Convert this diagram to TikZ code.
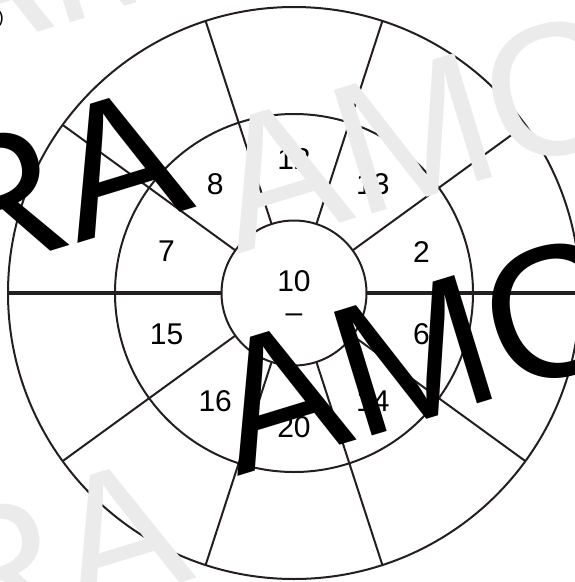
\documentclass[tikz,border=0pt]{standalone}
\usepackage{fontspec}
\setmainfont{Liberation Sans}
\definecolor{linec}{HTML}{231F20}
\definecolor{wgrey}{HTML}{EBEBEB}
\begin{document}
\begin{tikzpicture}[x=1pt,y=-1pt,
  ring/.style={circle, draw=linec, line width=2pt, inner sep=0pt, outer sep=0pt},
  spoke/.style={draw=linec, line width=2pt},
  hspoke/.style={draw=linec, line width=3.2pt},
  num/.style={font=\fontsize{30}{36}\selectfont, text=black, inner sep=0pt},
  wmk/.style={font=\fontsize{188}{200}\selectfont, inner sep=0pt, anchor=base west, rotate=17},
]
\useasboundingbox (0,0) rectangle (575,582);
\coordinate (O) at (294,293);
\node[ring, minimum size=572pt] (outer) at (O) {};
\node[ring, minimum size=358pt] (middle) at (O) {};
\node[ring, minimum size=145pt] (inner) at (O) {};
% spokes
\foreach \a in {36,72,108,144,216,252,288,324}
  \draw[spoke] (inner.\a) -- (outer.\a);
\draw[hspoke] (inner.0) -- (outer.0);
\draw[hspoke] (inner.180) -- (outer.180);
% labels
\foreach \a/\t/\n in {18/2/l2, 54/13/l13, 90/12/l12, 126/8/l8, 162/7/l7,
  198/15/l15, 234/16/l16, 270/20/l20, 306/14/l14, 342/6/l6}
  \node[num] (\n) at ([shift={(\a:134pt)}]O) {\t};
\node[num] (c10) at (294,281) {10};
\node[num, anchor=base] (cdash) at (294,322) {–};
\node[font=\fontsize{18}{20}\selectfont, inner sep=0pt, anchor=east] (par) at (4,19) {)};
% watermarks
\node[wmk, text=wgrey] (gAMCa) at (-65,64) {AMC};
\node[wmk, text=wgrey] (gAMC) at (237,255) {AMC};
\node[wmk, text=wgrey] (gRA) at (-52,654) {RA};
\node[wmk, text=black] (bRA) at (-52,283) {RA};
\node[wmk, text=black] (bAMC) at (237,477) {AMC};
\end{tikzpicture}
\end{document}
